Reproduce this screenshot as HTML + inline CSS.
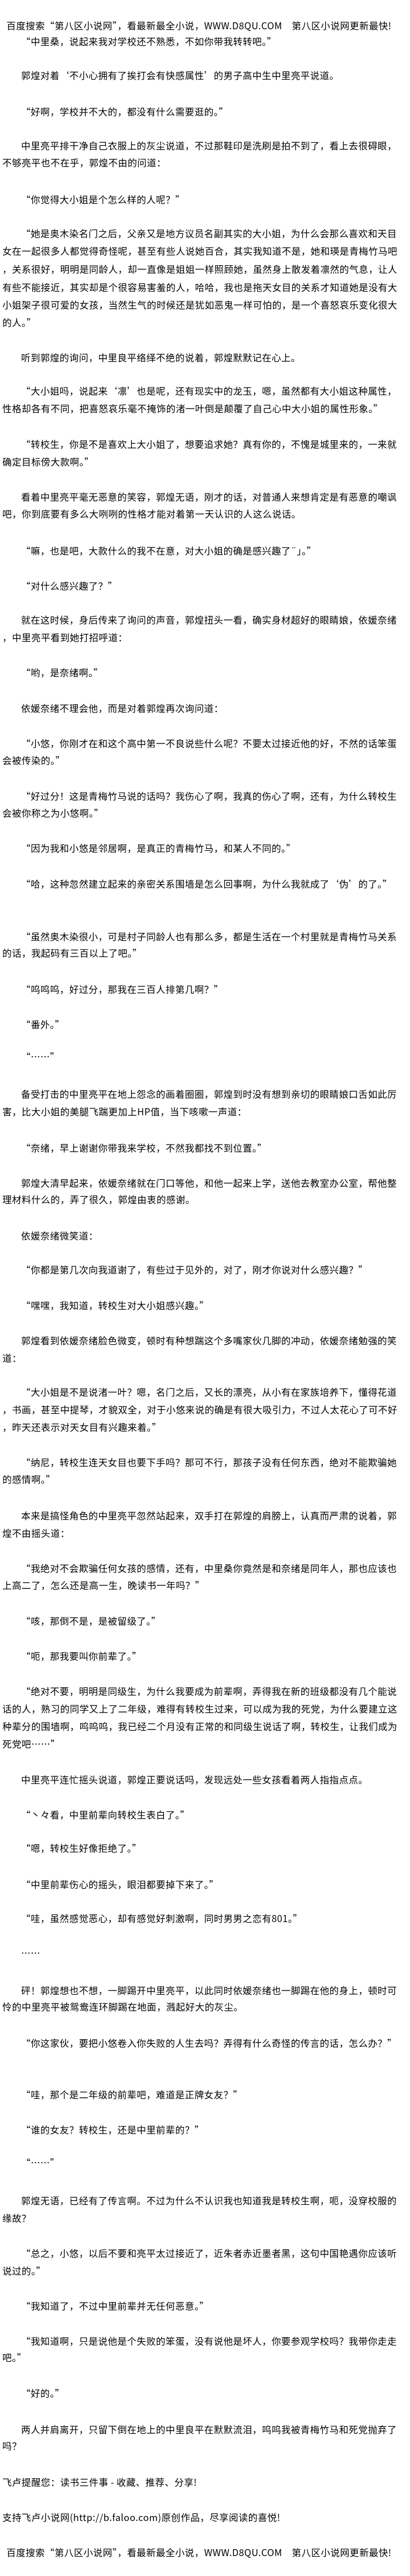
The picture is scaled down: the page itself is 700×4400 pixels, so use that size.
<!DOCTYPE html>
<html><head><meta charset="utf-8">
<style>
html,body{margin:0;padding:0;background:#fff;}
body{width:700px;height:4400px;position:relative;overflow:hidden;
font-family:"Noto Sans CJK SC","Liberation Sans","WenQuanYi Zen Hei",sans-serif;font-size:16px;color:#000;}
.l{position:absolute;left:4px;white-space:nowrap;line-height:20px;letter-spacing:0.45px;}
.i{left:36px;}
.h{left:11px;}
</style></head><body>
<div class="l h" style="top:33px">百度搜索“第八区小说网”，看最新最全小说，WWW.D8QU.COM　第八区小说网更新最快!</div>
<div class="l i" style="top:60px">“中里桑，说起来我对学校还不熟悉，不如你带我转转吧。”</div>
<div class="l i" style="top:118px">郭煌对着‘不小心拥有了挨打会有快感属性’的男子高中生中里亮平说道。</div>
<div class="l i" style="top:180px">“好啊，学校并不大的，都没有什么需要逛的。”</div>
<div class="l i" style="top:238px">中里亮平排干净自己衣服上的灰尘说道，不过那鞋印是洗刷是拍不到了，看上去很碍眼，</div>
<div class="l" style="top:267px">不够亮平也不在乎，郭煌不由的问道：</div>
<div class="l i" style="top:330px">“你觉得大小姐是个怎么样的人呢？”</div>
<div class="l i" style="top:388px">“她是奥木染名门之后，父亲又是地方议员名副其实的大小姐，为什么会那么喜欢和天目</div>
<div class="l" style="top:418px">女在一起很多人都觉得奇怪呢，甚至有些人说她百合，其实我知道不是，她和瑛是青梅竹马吧</div>
<div class="l" style="top:449px">，关系很好，明明是同龄人，却一直像是姐姐一样照顾她，虽然身上散发着凛然的气息，让人</div>
<div class="l" style="top:480px">有些不能接近，其实却是个很容易害羞的人，哈哈，我也是拖天女目的关系才知道她是没有大</div>
<div class="l" style="top:510px">小姐架子很可爱的女孩，当然生气的时候还是犹如恶鬼一样可怕的，是一个喜怒哀乐变化很大</div>
<div class="l" style="top:540px">的人。”</div>
<div class="l i" style="top:600px">听到郭煌的询问，中里良平络绎不绝的说着，郭煌默默记在心上。</div>
<div class="l i" style="top:657px">“大小姐吗，说起来‘凛’也是呢，还有现实中的龙玉，嗯，虽然都有大小姐这种属性，</div>
<div class="l" style="top:687px">性格却各有不同，把喜怒哀乐毫不掩饰的渚一叶倒是颠覆了自己心中大小姐的属性形象。”</div>
<div class="l i" style="top:748px">“转校生，你是不是喜欢上大小姐了，想要追求她？真有你的，不愧是城里来的，一来就</div>
<div class="l" style="top:778px">确定目标傍大款啊。”</div>
<div class="l i" style="top:838px">看着中里亮平毫无恶意的笑容，郭煌无语，刚才的话，对普通人来想肯定是有恶意的嘲讽</div>
<div class="l" style="top:867px">吧，你到底要有多么大咧咧的性格才能对着第一天认识的人这么说话。</div>
<div class="l i" style="top:930px">“嘛，也是吧，大款什么的我不在意，对大小姐的确是感兴趣了¨」。”</div>
<div class="l i" style="top:990px">“对什么感兴趣了？”</div>
<div class="l i" style="top:1048px">就在这时候，身后传来了询问的声音，郭煌扭头一看，确实身材超好的眼睛娘，依媛奈绪</div>
<div class="l" style="top:1078px">，中里亮平看到她打招呼道：</div>
<div class="l i" style="top:1138px">“哟，是奈绪啊。”</div>
<div class="l i" style="top:1199px">依媛奈绪不理会他，而是对着郭煌再次询问道：</div>
<div class="l i" style="top:1259px">“小悠，你刚才在和这个高中第一不良说些什么呢？不要太过接近他的好，不然的话笨蛋</div>
<div class="l" style="top:1288px">会被传染的。”</div>
<div class="l i" style="top:1349px">“好过分！这是青梅竹马说的话吗？我伤心了啊，我真的伤心了啊，还有，为什么转校生</div>
<div class="l" style="top:1378px">会被你称之为小悠啊。”</div>
<div class="l i" style="top:1438px">“因为我和小悠是邻居啊，是真正的青梅竹马，和某人不同的。”</div>
<div class="l i" style="top:1499px">“哈，这种忽然建立起来的亲密关系围墙是怎么回事啊，为什么我就成了‘伪’的了。”</div>
<div class="l i" style="top:1589px">“虽然奥木染很小，可是村子同龄人也有那么多，都是生活在一个村里就是青梅竹马关系</div>
<div class="l" style="top:1617px">的话，我起码有三百以上了吧。”</div>
<div class="l i" style="top:1679px">“呜呜呜，好过分，那我在三百人排第几啊？”</div>
<div class="l i" style="top:1739px">“番外。”</div>
<div class="l i" style="top:1794px">“……”</div>
<div class="l i" style="top:1858px">备受打击的中里亮平在地上怨念的画着圈圈，郭煌到时没有想到亲切的眼睛娘口舌如此厉</div>
<div class="l" style="top:1888px">害，比大小姐的美腿飞踹更加上HP值，当下咳嗽一声道：</div>
<div class="l i" style="top:1950px">“奈绪，早上谢谢你带我来学校，不然我都找不到位置。”</div>
<div class="l i" style="top:2010px">郭煌大清早起来，依媛奈绪就在门口等他，和他一起来上学，送他去教室办公室，帮他整</div>
<div class="l" style="top:2038px">理材料什么的，弄了很久，郭煌由衷的感谢。</div>
<div class="l i" style="top:2100px">依媛奈绪微笑道：</div>
<div class="l i" style="top:2158px">“你都是第几次向我道谢了，有些过于见外的，对了，刚才你说对什么感兴趣？”</div>
<div class="l i" style="top:2219px">“嘿嘿，我知道，转校生对大小姐感兴趣。”</div>
<div class="l i" style="top:2279px">郭煌看到依媛奈绪脸色微变，顿时有种想踹这个多嘴家伙几脚的冲动，依媛奈绪勉强的笑</div>
<div class="l" style="top:2309px">道：</div>
<div class="l i" style="top:2367px">“大小姐是不是说渚一叶？嗯，名门之后，又长的漂亮，从小有在家族培养下，懂得花道</div>
<div class="l" style="top:2397px">，书画，甚至中提琴，才貌双全，对于小悠来说的确是有很大吸引力，不过人太花心了可不好</div>
<div class="l" style="top:2427px">，昨天还表示对天女目有兴趣来着。”</div>
<div class="l i" style="top:2487px">“纳尼，转校生连天女目也要下手吗？那可不行，那孩子没有任何东西，绝对不能欺骗她</div>
<div class="l" style="top:2516px">的感情啊。”</div>
<div class="l i" style="top:2578px">本来是搞怪角色的中里亮平忽然站起来，双手打在郭煌的肩膀上，认真而严肃的说着，郭</div>
<div class="l" style="top:2608px">煌不由摇头道：</div>
<div class="l i" style="top:2668px">“我绝对不会欺骗任何女孩的感情，还有，中里桑你竟然是和奈绪是同年人，那也应该也</div>
<div class="l" style="top:2697px">上高二了，怎么还是高一生，晚读书一年吗？”</div>
<div class="l i" style="top:2758px">“咳，那倒不是，是被留级了。”</div>
<div class="l i" style="top:2818px">“呃，那我要叫你前辈了。”</div>
<div class="l i" style="top:2878px">“绝对不要，明明是同级生，为什么我要成为前辈啊，弄得我在新的班级都没有几个能说</div>
<div class="l" style="top:2908px">话的人，熟习的同学又上了二年级，难得有转校生过来，可以成为我的死党，为什么要建立这</div>
<div class="l" style="top:2938px">种辈分的围墙啊，呜呜呜，我已经二个月没有正常的和同级生说话了啊，转校生，让我们成为</div>
<div class="l" style="top:2968px">死党吧……”</div>
<div class="l i" style="top:3029px">中里亮平连忙摇头说道，郭煌正要说话吗，发现远处一些女孩看着两人指指点点。</div>
<div class="l i" style="top:3089px">“丶々看，中里前辈向转校生表白了。”</div>
<div class="l i" style="top:3146px">“嗯，转校生好像拒绝了。”</div>
<div class="l i" style="top:3208px">“中里前辈伤心的摇头，眼泪都要掉下来了。”</div>
<div class="l i" style="top:3266px">“哇，虽然感觉恶心，却有感觉好刺激啊，同时男男之恋有801。”</div>
<div class="l i" style="top:3325px">……</div>
<div class="l i" style="top:3389px">砰！郭煌想也不想，一脚踢开中里亮平，以此同时依媛奈绪也一脚踢在他的身上，顿时可</div>
<div class="l" style="top:3417px">怜的中里亮平被鸳鸯连环脚踢在地面，溅起好大的灰尘。</div>
<div class="l i" style="top:3479px">“你这家伙，要把小悠卷入你失败的人生去吗？弄得有什么奇怪的传言的话，怎么办？”</div>
<div class="l i" style="top:3567px">“哇，那个是二年级的前辈吧，难道是正牌女友？”</div>
<div class="l i" style="top:3627px">“谁的女友？转校生，还是中里前辈的？”</div>
<div class="l i" style="top:3683px">“……”</div>
<div class="l i" style="top:3748px">郭煌无语，已经有了传言啊。不过为什么不认识我也知道我是转校生啊，呃，没穿校服的</div>
<div class="l" style="top:3778px">缘故？</div>
<div class="l i" style="top:3838px">“总之，小悠，以后不要和亮平太过接近了，近朱者赤近墨者黑，这句中国艳遇你应该听</div>
<div class="l" style="top:3868px">说过的。”</div>
<div class="l i" style="top:3928px">“我知道了，不过中里前辈并无任何恶意。”</div>
<div class="l i" style="top:3988px">“我知道啊，只是说他是个失败的笨蛋，没有说他是坏人，你要参观学校吗？我带你走走</div>
<div class="l" style="top:4016px">吧。”</div>
<div class="l i" style="top:4077px">“好的。”</div>
<div class="l i" style="top:4139px">两人并肩离开，只留下倒在地上的中里良平在默默流泪，呜呜我被青梅竹马和死党抛弃了</div>
<div class="l" style="top:4167px">吗？</div>
<div class="l" style="top:4229px">飞卢提醒您：读书三件事 - 收藏、推荐、分享!</div>
<div class="l" style="top:4289px">支持飞卢小说网(http://b.faloo.com)原创作品，尽享阅读的喜悦!</div>
<div class="l h" style="top:4349px">百度搜索“第八区小说网”，看最新最全小说，WWW.D8QU.COM　第八区小说网更新最快!</div>
</body></html>
